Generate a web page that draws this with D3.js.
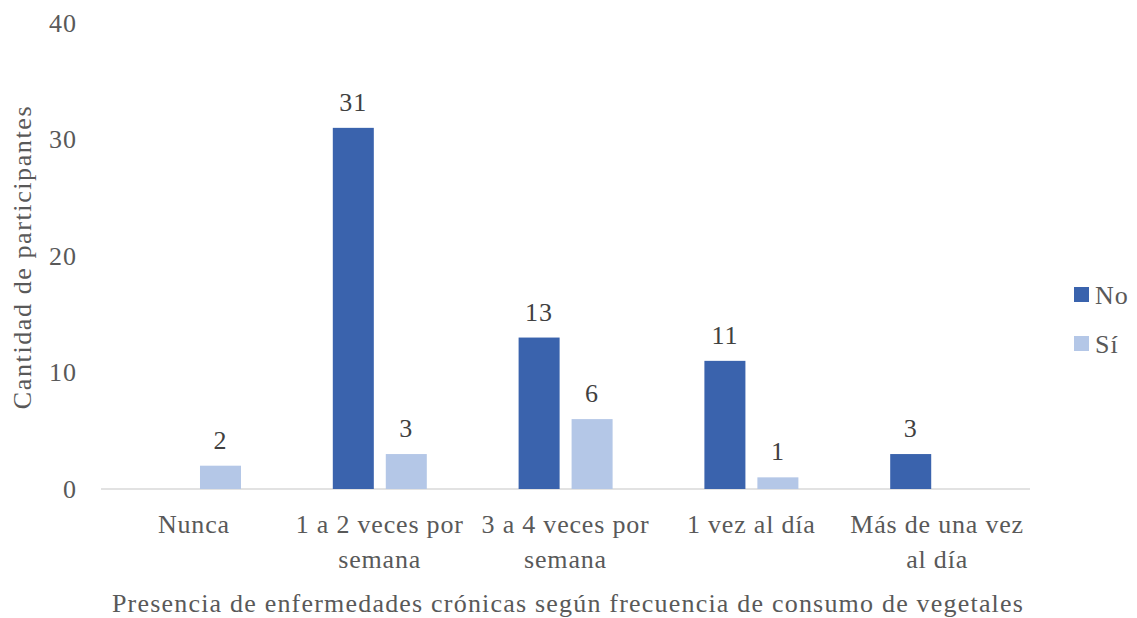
<!DOCTYPE html>
<html>
<head>
<meta charset="utf-8">
<script src="https://cdn.jsdelivr.net/npm/d3@7"></script>
<style>
  body { margin: 0; background: #fff; }
</style>
</head>
<body>
<script>
// Chart values
var categories = [["Nunca"], ["1 a 2 veces por", "semana"], ["3 a 4 veces por", "semana"], ["1 vez al día"], ["Más de una vez", "al día"]];
var series = ["No", "Sí"];
var noValues = [null, 31, 13, 11, 3];
var siValues = [2, 3, 6, 1, null];
var yTicks = [0, 10, 20, 30, 40];

var colors = {"No": "#3a63ad", "Sí": "#b4c7e7"};
var font = "'Liberation Serif', 'Times New Roman', 'DejaVu Serif', serif";

var width = 1137, height = 618,
    plotLeft = 101, plotRight = 1030,
    plotTop = 23, plotBottom = 489;

var svg = d3.select("body")
            .append("svg")
            .attr("width", width)
            .attr("height", height)
            .attr("font-family", font);

var x0 = d3.scaleBand()
           .domain(d3.range(categories.length))
           .range([plotLeft, plotRight]);

var x1 = d3.scaleBand()
           .domain(series)
           .range([46, 140])
           .paddingInner(0.226);

var y = d3.scaleLinear()
          .domain([0, 40])
          .range([plotBottom, plotTop]);

// y tick labels (no gridlines)
svg.append("g")
   .selectAll("text")
   .data(yTicks)
   .enter().append("text")
   .attr("x", 77)
   .attr("y", function(d) { return y(d); })
   .attr("dy", "0.34em")
   .attr("text-anchor", "end")
   .attr("fill", "#595959")
   .attr("font-size", "26px")
   .attr("letter-spacing", "1px")
   .text(function(d) { return d; });

// baseline
svg.append("line")
   .attr("x1", plotLeft).attr("x2", plotRight)
   .attr("y1", y(0)).attr("y2", y(0))
   .attr("stroke", "#d9d9d9")
   .attr("stroke-width", 1.5);

// bars
var rows = [];
categories.forEach(function(c, i) {
  rows.push({i: i, s: "No", v: noValues[i]});
  rows.push({i: i, s: "Sí", v: siValues[i]});
});
rows = rows.filter(function(r) { return r.v !== null; });

var bars = svg.append("g");
bars.selectAll("rect")
    .data(rows)
    .enter().append("rect")
    .attr("x", function(d) { return x0(d.i) + x1(d.s); })
    .attr("y", function(d) { return y(d.v); })
    .attr("width", x1.bandwidth())
    .attr("height", function(d) { return y(0) - y(d.v); })
    .attr("fill", function(d) { return colors[d.s]; });

bars.selectAll("text")
    .data(rows)
    .enter().append("text")
    .attr("x", function(d) { return x0(d.i) + x1(d.s) + x1.bandwidth() / 2; })
    .attr("y", function(d) { return y(d.v) - 17; })
    .attr("text-anchor", "middle")
    .attr("fill", "#404040")
    .attr("font-size", "26px")
    .attr("letter-spacing", "1px")
    .text(function(d) { return d.v; });

// category labels
var cat = svg.append("g")
             .selectAll("text")
             .data(categories)
             .enter().append("text")
             .attr("x", function(d, i) { return x0(i) + x0.bandwidth() / 2; })
             .attr("y", 533)
             .attr("text-anchor", "middle")
             .attr("fill", "#595959")
             .attr("font-size", "26px")
             .attr("letter-spacing", "0.8px");
cat.selectAll("tspan")
   .data(function(d) { return d; })
   .enter().append("tspan")
   .attr("x", function() { return d3.select(this.parentNode).attr("x"); })
   .attr("dy", function(d, j) { return j === 0 ? 0 : 35; })
   .text(function(d) { return d; });

// axis titles
svg.append("text")
   .attr("x", 568).attr("y", 612)
   .attr("text-anchor", "middle")
   .attr("fill", "#595959")
   .attr("font-size", "26px")
   .attr("letter-spacing", "1.2px")
   .text("Presencia de enfermedades crónicas según frecuencia de consumo de vegetales");

svg.append("text")
   .attr("transform", "translate(31," + ((plotTop + plotBottom) / 2 + 1) + ") rotate(-90)")
   .attr("text-anchor", "middle")
   .attr("fill", "#595959")
   .attr("font-size", "26px")
   .attr("letter-spacing", "1.6px")
   .text("Cantidad de participantes");

// legend
var legend = svg.append("g")
                .selectAll("g")
                .data(series)
                .enter().append("g")
                .attr("transform", function(d, i) { return "translate(1074," + (287 + i * 49) + ")"; });
legend.append("rect")
      .attr("width", 15).attr("height", 15)
      .attr("fill", function(d) { return colors[d]; });
legend.append("text")
      .attr("x", 21).attr("y", 8)
      .attr("dy", "0.35em")
      .attr("fill", "#595959")
      .attr("font-size", "26px")
      .attr("letter-spacing", "1px")
      .text(function(d) { return d; });
</script>
</body>
</html>
